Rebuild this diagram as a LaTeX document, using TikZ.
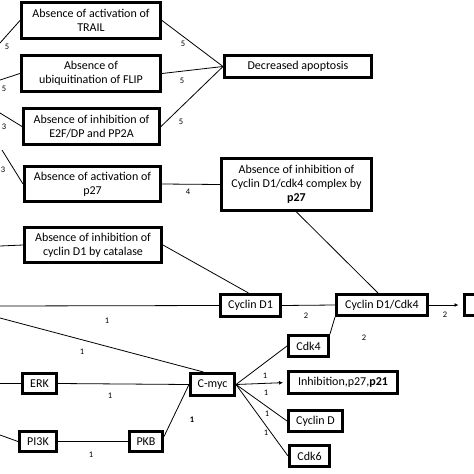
\documentclass[tikz,border=0pt]{standalone}
\usepackage{fontspec}
\setmainfont{Carlito}
\usetikzlibrary{calc,arrows.meta}
\begin{document}
\begin{tikzpicture}[x=1pt,y=-1pt,
  box/.style={draw,line width=3pt,inner sep=0pt,align=center,font=\fontsize{12}{14}\selectfont},
  conn/.style={line width=0.8pt},
  lbl/.style={font=\fontsize{8.5}{9}\selectfont,inner sep=0pt},
  arr/.style={conn,-{Latex[length=4pt,width=4pt]},shorten >=4pt}]
\useasboundingbox (0,0) rectangle (474,474);

% boxes
\node[box,minimum width=139pt,minimum height=36pt] (trail) at (91,20.5) {Absence of activation of\\TRAIL};
\node[box,minimum width=139pt,minimum height=36pt] (flip) at (91,73.5) {Absence of\\ubiquitination of FLIP};
\node[box,minimum width=136pt,minimum height=36pt] (e2f) at (91.5,126.5) {Absence of inhibition of\\E2F/DP and PP2A};
\node[box,minimum width=147pt,minimum height=22pt] (da) at (298,66.5) {Decreased apoptosis};
\node[box,minimum width=136pt,minimum height=35pt] (p27) at (92.5,184) {Absence of activation of\\p27};
\node[box,minimum width=137pt,minimum height=35pt] (cat) at (93,245) {Absence of inhibition of\\cyclin D1 by catalase};
\node[box,minimum width=150pt,minimum height=52pt] (cplx) at (296.5,184.5) {Absence of inhibition of\\Cyclin D1/cdk4 complex by\\\textbf{p27}};
\node[box,minimum width=60pt,minimum height=22pt] (cd1) at (250.5,305.5) {Cyclin D1};
\node[box,minimum width=91pt,minimum height=21pt] (cd1cdk4) at (382,305) {Cyclin D1/Cdk4};
\node[box,minimum width=32pt,minimum height=21pt] (rbox) at (480,305) {};
\node[box,minimum width=40pt,minimum height=21pt] (cdk4) at (308.5,346) {Cdk4};
\node[box,minimum width=109pt,minimum height=22pt] (inh) at (343,382.5) {Inhibition,p27,\textbf{p21}};
\node[box,minimum width=54pt,minimum height=21pt] (cycd) at (315.5,421) {Cyclin D};
\node[box,minimum width=40pt,minimum height=21pt] (cdk6) at (309.5,456) {Cdk6};
\node[box,minimum width=44pt,minimum height=22pt] (cmyc) at (212.5,384.5) {C-myc};
\node[box,minimum width=34pt,minimum height=20pt] (erk) at (39.5,383.5) {ERK};
\node[box,minimum width=37pt,minimum height=20pt] (pi3k) at (38,441.5) {PI3K};
\node[box,minimum width=33pt,minimum height=20pt] (pkb) at (146,441.5) {PKB};

% free ends on the left
\coordinate (l1) at (0,43);
\coordinate (l2) at (0,80);
\coordinate (l3) at (0,113);
\coordinate (l4) at (2,150);
\coordinate (l5) at (0,246);
\coordinate (l6) at (0,306);
\coordinate (l7) at (0,318);
\coordinate (l8) at (0,383.5);
\coordinate (l9) at (0,435);

% connectors
\draw[conn] (l1) -- (trail.west);
\draw[conn] (l2) -- (flip.west);
\draw[conn] (l3) -- (e2f.west);
\draw[conn] (l4) -- (p27.west);
\draw[conn] (l5) -- (cat.west);
\draw[conn] (l6) -- (cd1.west);
\draw[conn] (l7) -- ($(cmyc.north)+(-9,0)$);
\draw[conn] (l8) -- (erk.west);
\draw[conn] (l9) -- (pi3k.west);

\draw[conn] (trail.east) -- (da.west);
\draw[conn] (flip.east) -- (da.west);
\draw[conn] (e2f.east) -- (da.west);
\draw[conn] (p27.east) -- (cplx.west);
\draw[conn] (cplx.south) -- ($(cd1cdk4.north)+(-4,0)$);
\draw[conn] (cat.east) -- ($(cd1.north)+(-2,0)$);
\draw[conn] (cd1.east) -- (cd1cdk4.west);
\draw[arr] (cd1cdk4.east) -- (rbox.west);
\draw[conn] (cdk4.north east) -- (cd1cdk4.south west);
\draw[conn] (erk.east) -- (cmyc.west);
\draw[conn] (pi3k.east) -- (pkb.west);
\draw[conn] ($(pkb.east)+(0,-5)$) -- (cmyc.west);
\draw[conn] (cmyc.east) -- (cdk4.west);
\draw[arr] (cmyc.east) -- (inh.west);
\draw[conn] (cmyc.east) -- (cycd.west);
\draw[conn] (cmyc.east) -- (cdk6.west);

% labels
\node[lbl] (n1) at (7,47) {5};
\node[lbl] (n2) at (4,89) {5};
\node[lbl] (n3) at (4,127) {3};
\node[lbl] (n4) at (3,170) {3};
\node[lbl] (n5) at (183,44) {5};
\node[lbl] (n6) at (182,81) {5};
\node[lbl] (n7) at (181,122) {5};
\node[lbl] (n8) at (188,192) {4};
\node[lbl] (n9) at (107,321) {1};
\node[lbl] (n10) at (82,352) {1};
\node[lbl] (n11) at (110,396) {1};
\node[lbl] (n12) at (192,420) {\textbf{1}};
\node[lbl] (n13) at (91,455) {1};
\node[lbl] (n14) at (306,316) {2};
\node[lbl] (n15) at (445,315) {2};
\node[lbl] (n16) at (364,338) {2};
\node[lbl] (n17) at (265,376) {1};
\node[lbl] (n18) at (266,393) {1};
\node[lbl] (n19) at (267,414) {1};
\node[lbl] (n20) at (266,433) {1};
\end{tikzpicture}
\end{document}
